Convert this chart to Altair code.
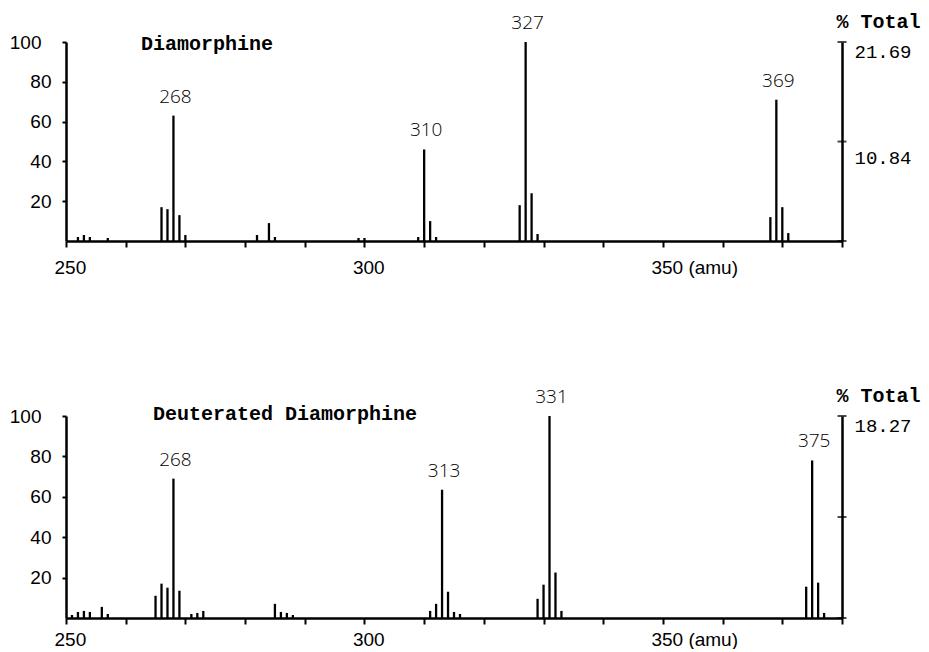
import altair as alt
import pandas as pd

# ---- data ----
top_mass = [252, 253, 254, 257, 266, 267, 268, 269, 270, 282, 284, 285, 299, 300,
            309, 310, 311, 312, 326, 327, 328, 329, 368, 369, 370, 371]
top_int = [2, 3, 2, 1.5, 17, 16, 63, 13, 3, 3, 9, 2, 1.5, 1.5,
           2, 46, 10, 2, 18, 100, 24, 3.5, 12, 71, 17, 4]
top_peaks = [268, 310, 327, 369]
top_peak_labels = ["268", "310", "327", "369"]
top_pct_max = 21.69
top_pct_ticks = [0, 10.84, 21.69]
top_pct_labels = [10.84, 21.69]

bot_mass = [251, 252, 253, 254, 256, 257, 265, 266, 267, 268, 269, 271, 272, 273,
            285, 286, 287, 288, 311, 312, 313, 314, 315, 316,
            329, 330, 331, 332, 333, 374, 375, 376, 377]
bot_int = [1.5, 3, 3.5, 3, 5.5, 2, 11, 17, 15, 69, 13.5, 2, 2.5, 3.5,
           7, 3, 2.5, 1.5, 3.5, 7, 63.5, 13, 3, 2,
           9.5, 16.5, 100, 22.5, 3.5, 15.5, 78, 17.5, 2.5]
bot_peaks = [268, 313, 331, 375]
bot_peak_labels = ["268", "313", "331", "375"]
bot_pct_max = 18.27
bot_pct_ticks = [0, 9.135, 18.27]
bot_pct_labels = [18.27]

x_ticks = list(range(250, 381, 10))
y_ticks = [20, 40, 60, 80, 100]

W = 776
INK = "black"


def panel(mass, inten, peaks, peak_labels, name, name_x, name_y,
          pct_max, pct_ticks, pct_labels, height, xlab_pad):
    df = pd.DataFrame({"mass": mass, "intensity": inten})
    lab = pd.DataFrame({
        "mass": peaks,
        "label": peak_labels,
        "intensity": [inten[mass.index(m)] for m in peaks],
    })
    xscale = alt.Scale(domain=[250, 380], nice=False, zero=False)
    yscale = alt.Scale(domain=[0, 100], nice=False)
    xaxis = alt.Axis(
        values=x_ticks,
        labelExpr="datum.value == 250 ? '250' : datum.value == 300 ? '300' : "
                  "datum.value == 350 ? '350 (amu)' : ''",
        grid=False, tickSize=6, tickWidth=2, tickColor=INK,
        domainWidth=2.5, domainColor=INK,
        labelAlign="left", labelOffset=-12, labelPadding=xlab_pad,
        labelFont="Liberation Sans", labelFontSize=19, labelColor=INK,
        labelFlush=False, labelOverlap=False, title=None,
    )
    yaxis = alt.Axis(
        values=y_ticks, grid=False, tickSize=4, tickWidth=2, tickColor=INK,
        domainWidth=2.5, domainColor=INK,
        labelFont="Liberation Sans", labelFontSize=19, labelColor=INK,
        labelPadding={"condition": {"test": "datum.value == 100", "value": 21},
                      "value": 11},
        labelOverlap=False, title=None,
    )
    bars = alt.Chart(df).mark_rule(color=INK, strokeWidth=2.3).encode(
        x=alt.X("mass:Q", scale=xscale, axis=xaxis),
        y=alt.Y("intensity:Q", scale=yscale, axis=yaxis),
        y2=alt.datum(0),
    )
    labels = alt.Chart(lab).mark_text(
        baseline="bottom", align="center", dy=-9, dx=2,
        font="Open Sans", fontWeight=300, fontSize=19, color=INK,
    ).encode(
        x=alt.X("mass:Q", scale=xscale),
        y=alt.Y("intensity:Q", scale=yscale),
        text="label:N",
    )
    title = alt.Chart(pd.DataFrame({"t": [name]})).mark_text(
        align="left", baseline="middle", font="Liberation Mono",
        fontWeight="bold", fontSize=20, color=INK,
    ).encode(x=alt.value(name_x), y=alt.value(name_y), text="t:N")

    inner = alt.layer(bars, labels, title)

    pct_df = pd.DataFrame({"pct": pct_ticks})
    right = alt.Chart(pct_df).mark_tick(
        orient="horizontal", size=9, thickness=2, color=INK,
    ).encode(
        x=alt.datum(380),
        y=alt.Y("pct:Q",
                scale=alt.Scale(domain=[0, pct_max], nice=False),
                axis=alt.Axis(
                    orient="right", values=pct_labels, ticks=False,
                    grid=False, domainWidth=2.5, domainColor=INK,
                    labelFont="Liberation Mono", labelFontSize=19,
                    labelColor=INK, labelBaseline="top", labelPadding=12,
                    labelOffset={"condition": {"test": "datum.value < 15",
                                               "value": 7}, "value": 0},
                    labelOverlap=False, format=".2f",
                    title="% Total", titleAngle=0, titleAlign="left",
                    titleBaseline="bottom", titleX=-6, titleY=-11,
                    titleFont="Liberation Mono", titleFontWeight="bold",
                    titleFontSize=20, titleColor=INK,
                )),
    )
    return alt.layer(inner, right).resolve_scale(y="independent").properties(
        width=W, height=height)


top = panel(top_mass, top_int, top_peaks, top_peak_labels, "Diamorphine",
            75, 2, top_pct_max, top_pct_ticks, top_pct_labels, 199, 11)
bottom = panel(bot_mass, bot_int, bot_peaks, bot_peak_labels,
               "Deuterated Diamorphine", 87, -2,
               bot_pct_max, bot_pct_ticks, bot_pct_labels, 202, 6)

chart = alt.vconcat(top, bottom, spacing=175, bounds="flush").properties(
    padding={"left": 1, "top": 3, "right": 0, "bottom": 0},
    background="white",
).configure_view(stroke=None)

chart.save("out.html", embed_options={"renderer": "svg", "actions": False})
